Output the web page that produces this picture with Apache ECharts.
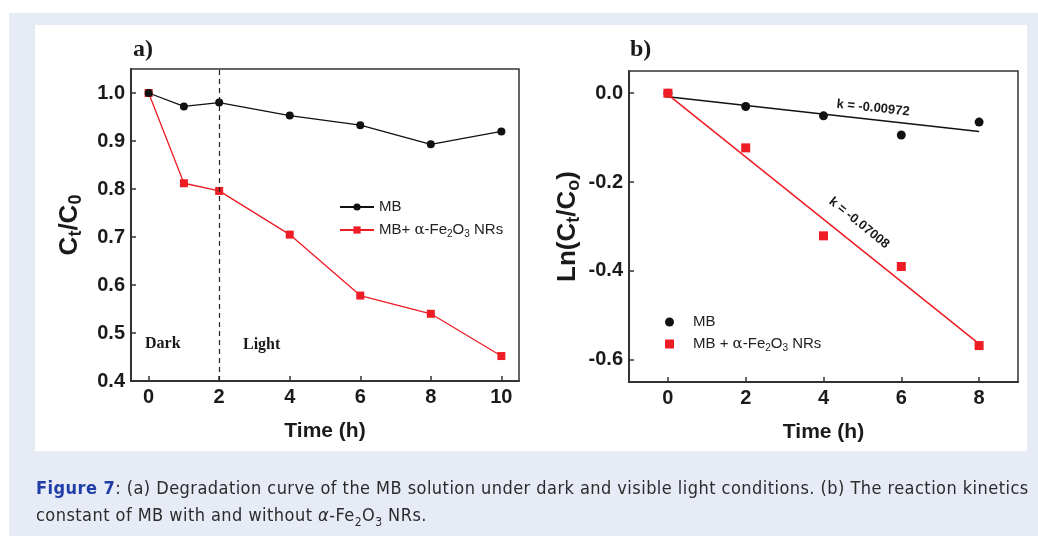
<!DOCTYPE html>
<html>
<head>
<meta charset="utf-8">
<script src="https://cdn.jsdelivr.net/npm/echarts@6/dist/echarts.min.js"></script>
<style>
  html, body { margin: 0; padding: 0; background: #fff; }
  #page { position: absolute; left: 9px; top: 13px; right: 0; bottom: 0; background: #e7ebf6; }
  #panel { position: absolute; left: 35px; top: 25px; width: 992px; height: 426px; background: #fff; }
  #chart { position: absolute; left: 0; top: 0; width: 1038px; height: 536px; }
  #caption { position: absolute; left: 36px; top: 474px; width: 1000px; font-family: "Liberation Sans Narrow", "DejaVu Sans Condensed", sans-serif; font-size: 18px; letter-spacing: 0.45px; line-height: 27px; color: #2b2b2b; white-space: nowrap; }
  #caption b { color: #1f3ea8; }
</style>
</head>
<body>
<div id="page"></div>
<div id="panel"></div>
<div id="chart"></div>
<div id="caption"><b>Figure 7</b>: (a) Degradation curve of the MB solution under dark and visible light conditions. (b) The reaction kinetics<br>constant of MB with and without <i>α</i>-Fe<sub style="font-size:12px">2</sub>O<sub style="font-size:12px">3</sub> NRs.</div>
<script>
// panel a: degradation
var timeA = [0, 1, 2, 4, 6, 8, 10];
var mbA = [1.0, 0.972, 0.98, 0.953, 0.933, 0.893, 0.92];
var feA = [1.0, 0.812, 0.796, 0.705, 0.578, 0.54, 0.452];
var xTicksA = [0, 2, 4, 6, 8, 10];
var yTicksA = [0.4, 0.5, 0.6, 0.7, 0.8, 0.9, 1.0];

// panel b: kinetics
var timeB = [0, 2, 4, 6, 8];
var mbB = [0, -0.03, -0.051, -0.094, -0.065];
var feB = [0, -0.123, -0.321, -0.39, -0.568];
var timeFit = [0, 8];
var fitMB = [-0.008, -0.086];
var fitFe = [-0.003, -0.564];
var xTicksB = [0, 2, 4, 6, 8];
var yTicksB = [-0.6, -0.4, -0.2, 0.0];

function zip(xs, ys) {
    return xs.map(function (x, i) { return [x, ys[i]]; });
}

var names = {
    MB_a: 'MB',
    Fe_a: 'MB+ {g|α}-Fe{s|2}O{s|3} NRs',
    MB_b: 'MB',
    Fe_b: 'MB + {g|α}-Fe{s|2}O{s|3} NRs'
};

var black = '#111';
var red = '#ee1c24';
var axisCol = '#333';
var tickFont = {fontFamily: 'Liberation Sans, Arial', fontWeight: 'bold', fontSize: 20, color: '#1a1a1a'};
var legendRich = {
    g: {fontSize: 15, fontFamily: 'DejaVu Serif', lineHeight: 18, color: '#222'},
    s: {fontSize: 10, lineHeight: 10, padding: [8, 0, 0, 0], color: '#222'}
};

function xAxisOf(grid, min, max, ticks) {
    return {
        type: 'value', gridIndex: grid, min: min, max: max,
        name: 'Time (h)', nameLocation: 'middle', nameGap: 40,
        nameTextStyle: {fontFamily: 'Liberation Sans, Arial', fontWeight: 'bold', fontSize: 21, color: '#1a1a1a'},
        axisLine: {onZero: false, lineStyle: {color: axisCol, width: 2}},
        axisTick: {inside: true, length: 5, customValues: ticks, lineStyle: {color: axisCol, width: 1.5}},
        axisLabel: Object.assign({customValues: ticks, margin: 6}, tickFont),
        splitLine: {show: false}
    };
}

function yAxisOf(grid, min, max, ticks, name, rich) {
    return {
        type: 'value', gridIndex: grid, min: min, max: max,
        name: name, nameLocation: 'middle', nameGap: 46, nameRotate: 90,
        nameTextStyle: {rich: rich},
        axisLine: {onZero: false, lineStyle: {color: axisCol, width: 2}},
        axisTick: {inside: true, length: 5, customValues: ticks, lineStyle: {color: axisCol, width: 1.5}},
        axisLabel: Object.assign({customValues: ticks, margin: 6, formatter: function (v) { return v.toFixed(1); }}, tickFont),
        splitLine: {show: false}
    };
}

var nameRich = {
    m: {fontFamily: 'Liberation Sans, Arial', fontWeight: 'bold', fontSize: 26, lineHeight: 30, color: '#1a1a1a'},
    s: {fontFamily: 'Liberation Sans, Arial', fontWeight: 'bold', fontSize: 18, lineHeight: 18, padding: [12, 0, 0, 0], color: '#1a1a1a'}
};

var chart = echarts.init(document.getElementById('chart'), null, {renderer: 'canvas'});
chart.setOption({
    backgroundColor: 'transparent',
    animation: false,
    grid: [
        {left: 131, top: 69, width: 388, height: 312, show: true, borderColor: axisCol, borderWidth: 1.5, backgroundColor: 'transparent'},
        {left: 629, top: 71, width: 389, height: 311, show: true, borderColor: axisCol, borderWidth: 1.5, backgroundColor: 'transparent'}
    ],
    xAxis: [
        xAxisOf(0, -0.5, 10.5, xTicksA),
        xAxisOf(1, -1, 9, xTicksB)
    ],
    yAxis: [
        yAxisOf(0, 0.4, 1.05, yTicksA, '{m|C}{s|t}{m|/C}{s|0}', nameRich),
        yAxisOf(1, -0.65, 0.05, yTicksB, '{m|Ln(C}{s|t}{m|/C}{s|o}{m|)}', nameRich)
    ],
    legend: [
        {
            left: 339, top: 198, orient: 'vertical', itemGap: 5, padding: 0,
            itemWidth: 34, itemHeight: 9,
            data: ['MB_a', 'Fe_a'],
            formatter: function (n) { return names[n]; },
            textStyle: {fontFamily: 'Liberation Sans, Arial', fontSize: 15, color: '#222', lineHeight: 18, rich: legendRich}
        },
        {
            left: 665, top: 313, orient: 'vertical', itemGap: 4, padding: 0,
            itemWidth: 9, itemHeight: 9,
            data: ['MB_b', 'Fe_b'],
            formatter: function (n) { return names[n]; },
            textStyle: {fontFamily: 'Liberation Sans, Arial', fontSize: 15, color: '#222', lineHeight: 18, padding: [0, 0, 0, 14], rich: legendRich}
        }
    ],
    series: [
        {
            name: 'MB_a', type: 'line', xAxisIndex: 0, yAxisIndex: 0,
            data: zip(timeA, mbA), symbol: 'circle', symbolSize: 8, z: 3,
            lineStyle: {color: black, width: 1.3}, itemStyle: {color: black},
            markLine: {
                silent: true, symbol: ['none', 'none'], label: {show: false},
                lineStyle: {color: '#222', width: 1.2, type: [5, 4]},
                data: [{xAxis: 2}]
            }
        },
        {
            name: 'Fe_a', type: 'line', xAxisIndex: 0, yAxisIndex: 0,
            data: zip(timeA, feA), symbol: 'rect', symbolSize: 8, z: 2,
            lineStyle: {color: red, width: 1.3}, itemStyle: {color: red}
        },
        {
            name: 'fitMB', type: 'line', xAxisIndex: 1, yAxisIndex: 1,
            data: zip(timeFit, fitMB), symbol: 'none',
            lineStyle: {color: black, width: 1.5}
        },
        {
            name: 'fitFe', type: 'line', xAxisIndex: 1, yAxisIndex: 1,
            data: zip(timeFit, fitFe), symbol: 'none',
            lineStyle: {color: red, width: 1.5}
        },
        {
            name: 'MB_b', type: 'scatter', xAxisIndex: 1, yAxisIndex: 1,
            data: zip(timeB, mbB), symbol: 'circle', symbolSize: 9,
            itemStyle: {color: black, opacity: 1}, z: 3
        },
        {
            name: 'Fe_b', type: 'scatter', xAxisIndex: 1, yAxisIndex: 1,
            data: zip(timeB, feB), symbol: 'rect', symbolSize: 9,
            itemStyle: {color: red, opacity: 1}, z: 3
        }
    ],
    graphic: [
        {type: 'text', left: 133, top: 38, style: {text: 'a)', font: 'bold 24px "Liberation Serif", "Times New Roman", serif', fill: '#1a1a1a'}},
        {type: 'text', left: 630, top: 38, style: {text: 'b)', font: 'bold 24px "Liberation Serif", "Times New Roman", serif', fill: '#1a1a1a'}},
        {type: 'text', left: 145, top: 336, style: {text: 'Dark', font: 'bold 16px "Liberation Serif", serif', fill: '#1a1a1a'}},
        {type: 'text', left: 243, top: 337, style: {text: 'Light', font: 'bold 16px "Liberation Serif", serif', fill: '#1a1a1a'}},
        {type: 'text', x: 873, y: 108, rotation: -6 * Math.PI / 180,
            style: {text: 'k = -0.00972', font: 'bold 13px "Liberation Sans", Arial', fill: '#1a1a1a', align: 'center', verticalAlign: 'middle'}},
        {type: 'text', x: 859, y: 223, rotation: -39 * Math.PI / 180,
            style: {text: 'k = -0.07008', font: 'bold 13px "Liberation Sans", Arial', fill: '#1a1a1a', align: 'center', verticalAlign: 'middle'}}
    ]
});
</script>
</body>
</html>
